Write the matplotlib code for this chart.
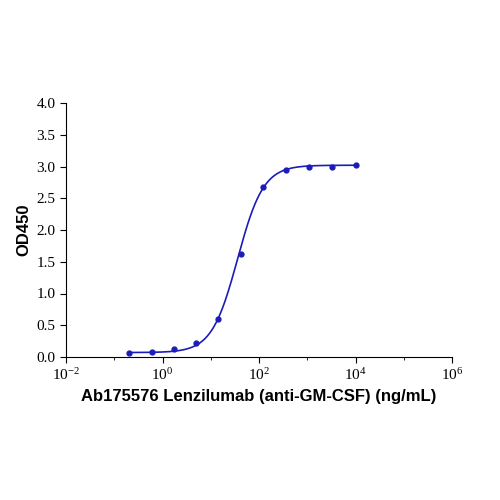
import numpy as np
import matplotlib
matplotlib.use("Agg")
import matplotlib.pyplot as plt

conc = [0.2, 0.6, 1.7, 4.9, 14.3, 42, 123, 370, 1111, 3333, 10000]
od = [0.07, 0.08, 0.12, 0.22, 0.60, 1.62, 2.68, 2.95, 3.00, 3.00, 3.02]
bottom, top, ec50, hill = 0.07, 3.02, 36.0, 1.62

fig = plt.figure(figsize=(5, 5), dpi=100)
ax = fig.add_axes([0.132, 0.286, 0.772, 0.508])
color = "#1c1cb8"
xf = np.logspace(np.log10(conc[0]), np.log10(conc[-1]), 400)
yf = bottom + (top - bottom) / (1 + (ec50 / xf) ** hill)
ax.plot(xf, yf, color=color, lw=1.2)
ax.plot(conc, od, "o", color=color, ms=3.5)
ax.set_xscale("log")
ax.set_xlim(1e-2, 1e6)
ax.set_ylim(0, 4)
ax.set_xticks([1e-2, 1e0, 1e2, 1e4, 1e6])
ax.set_xticks([1e-1, 1e1, 1e3, 1e5], minor=True)
ax.xaxis.set_minor_formatter(matplotlib.ticker.NullFormatter())
ax.set_yticks(np.arange(0, 4.01, 0.5))
ax.set_yticklabels([f"{v:.1f}" for v in np.arange(0, 4.01, 0.5)])
for s in ["top", "right"]:
    ax.spines[s].set_visible(False)
for lab in ax.get_xticklabels() + ax.get_yticklabels():
    lab.set_fontfamily("Liberation Serif")
    lab.set_fontsize(11)
ax.tick_params(direction="out", length=4)
ax.set_xlabel("Ab175576 Lenzilumab (anti-GM-CSF) (ng/mL)", fontfamily="Liberation Sans",
              fontweight="bold", fontsize=12)
ax.set_ylabel("OD450", fontfamily="Liberation Sans", fontweight="bold", fontsize=12)
fig.savefig("out.png")
